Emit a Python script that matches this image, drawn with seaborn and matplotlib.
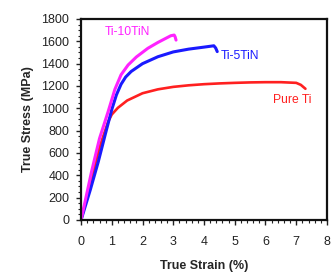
import numpy as np
import matplotlib
matplotlib.use("Agg")
import matplotlib.pyplot as plt
import seaborn as sns
from matplotlib.ticker import MultipleLocator

# strain (%) / stress (MPa)
pure_strain = [0, 0.3, 0.6, 0.88, 1.0, 1.2, 1.5, 2.0, 2.5, 3.0, 3.5, 4.0, 4.5, 5.0, 5.5, 6.0, 6.5, 7.0, 7.15, 7.3]
pure_stress = [0, 330, 650, 880, 945, 1005, 1070, 1135, 1170, 1192, 1206, 1216, 1223, 1228, 1232, 1234, 1234, 1228, 1210, 1175]

tin5_strain = [0, 0.3, 0.56, 0.8, 1.0, 1.15, 1.3, 1.45, 1.63, 2.0, 2.5, 3.0, 3.5, 4.0, 4.32, 4.38, 4.43]
tin5_stress = [0, 270, 522, 780, 990, 1120, 1215, 1280, 1330, 1400, 1462, 1505, 1530, 1548, 1560, 1540, 1508]

tin10_strain = [0, 0.34, 0.6, 0.88, 1.1, 1.3, 1.53, 1.8, 2.17, 2.5, 2.92, 3.03, 3.06, 3.09]
tin10_stress = [0, 432, 730, 970, 1170, 1300, 1388, 1460, 1537, 1590, 1650, 1656, 1640, 1611]

sns.set_style("white")
plt.rcParams["font.family"] = ["Liberation Sans", "DejaVu Sans"]

fig, ax = plt.subplots(figsize=(3.35, 2.75), dpi=100)
fig.subplots_adjust(left=0.242, right=0.976, top=0.931, bottom=0.2)

sns.lineplot(x=pure_strain, y=pure_stress, ax=ax, color="#ff2020", lw=1.9, sort=False)
sns.lineplot(x=tin5_strain, y=tin5_stress, ax=ax, color="#1a1aff", lw=2.2, sort=False)
sns.lineplot(x=tin10_strain, y=tin10_stress, ax=ax, color="#ff22ff", lw=2.2, sort=False)

ax.text(0.77, 1683, "Ti-10TiN", color="#ff22ff", fontsize=8.7, va="center")
ax.text(4.54, 1468, "Ti-5TiN", color="#1a1aff", fontsize=8.7, va="center")
ax.text(6.26, 1074, "Pure Ti", color="#ff2020", fontsize=8.7, va="center")

ax.set_xlim(0, 8)
ax.set_ylim(0, 1800)
ax.xaxis.set_major_locator(MultipleLocator(1))
ax.xaxis.set_minor_locator(MultipleLocator(0.2))
ax.yaxis.set_major_locator(MultipleLocator(200))
ax.yaxis.set_minor_locator(MultipleLocator(50))
ax.tick_params(which="major", direction="out", length=3.5, width=1, labelsize=9, colors="#222222")
ax.tick_params(which="minor", direction="out", length=2, width=0.8, colors="#222222")
ax.tick_params(axis="x", which="major", pad=8)
ax.tick_params(axis="y", which="major", pad=5)
ax.tick_params(axis="x", which="both", bottom=True)
ax.tick_params(axis="y", which="both", left=True)
for s in ax.spines.values():
    s.set_linewidth(1.6)
    s.set_color("#111111")

ax.set_xlabel("True Strain (%)", fontsize=9, fontweight="bold", labelpad=9)
ax.set_ylabel("True Stress (MPa)", fontsize=9, fontweight="bold", labelpad=5)

fig.savefig("out.png", dpi=100)
